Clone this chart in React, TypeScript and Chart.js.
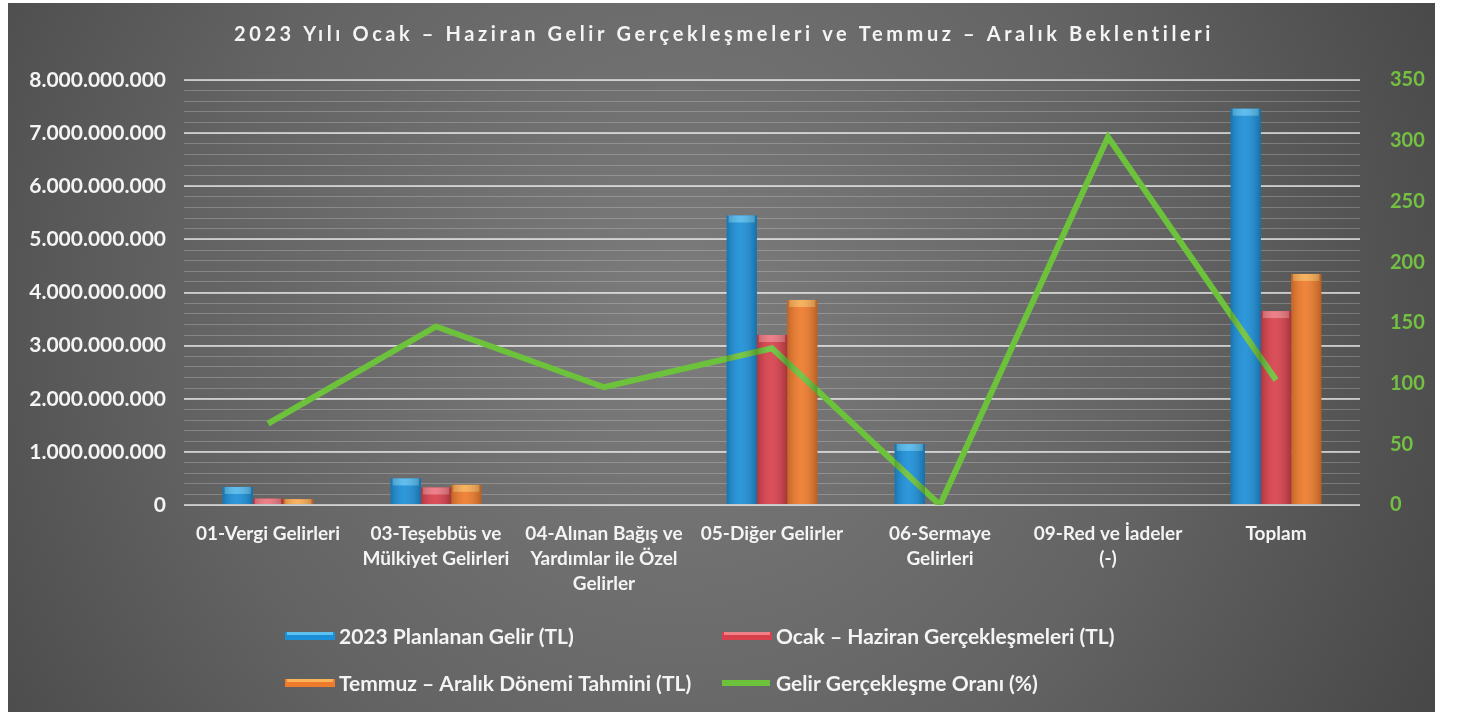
import React, { useEffect, useRef } from "react";
import { Chart, registerables } from "chart.js";

Chart.register(...registerables);

const TITLE = "2023 Yılı Ocak – Haziran Gelir Gerçekleşmeleri ve Temmuz – Aralık Beklentileri";

const categories: string[][] = [
  ["01-Vergi Gelirleri"],
  ["03-Teşebbüs ve", "Mülkiyet Gelirleri"],
  ["04-Alınan Bağış ve", "Yardımlar ile Özel", "Gelirler"],
  ["05-Diğer Gelirler"],
  ["06-Sermaye", "Gelirleri"],
  ["09-Red ve İadeler", "(-)"],
  ["Toplam"],
];

const seriesNames = [
  "2023 Planlanan Gelir (TL)",
  "Ocak – Haziran Gerçekleşmeleri (TL)",
  "Temmuz – Aralık Dönemi Tahmini (TL)",
  "Gelir Gerçekleşme Oranı (%)",
];

const planned = [340e6, 500e6, 0, 5450e6, 1150e6, 0, 7460e6];
const actual = [120e6, 330e6, 0, 3200e6, 0, 0, 3650e6];
const forecast = [110e6, 380e6, 0, 3860e6, 0, 0, 4350e6];
const rate = [67, 147, 97, 129, 0, 303, 103];

const leftTicks = [0, 1e9, 2e9, 3e9, 4e9, 5e9, 6e9, 7e9, 8e9];
const rightTicks = [0, 50, 100, 150, 200, 250, 300, 350];

const COLORS = ["#1b8fd8", "#d8404b", "#ee7a2b", "#6cc23a"];
const CAPS = ["#5cc0f0", "#f08088", "#f9b45a", "#6cc23a"];

const FONT = "Lato, 'Open Sans', sans-serif";

const fmt = (v: number) => Math.round(v).toString().replace(/\B(?=(\d{3})+(?!\d))/g, ".");

const bgPlugin = {
  id: "bgPlugin",
  beforeDraw(chart: any) {
    const { ctx, width, height } = chart;
    ctx.save();
    ctx.fillStyle = "#ffffff";
    ctx.fillRect(0, 0, width, height);
    const g = ctx.createRadialGradient(680, 320, 50, 680, 320, 850);
    g.addColorStop(0, "#7a7a7a");
    g.addColorStop(0.55, "#636363");
    g.addColorStop(1, "#474747");
    ctx.fillStyle = g;
    ctx.fillRect(8, 3, 1427, 709);
    ctx.restore();
  },
  afterDatasetsDraw(chart: any) {
    const { ctx } = chart;
    ctx.save();
    for (let d = 0; d < 3; d++) {
      const meta = chart.getDatasetMeta(d);
      meta.data.forEach((bar: any) => {
        const h = bar.base - bar.y;
        if (h < 1) return;
        const left = bar.x - bar.width / 2;
        const capH = Math.min(7, h);
        ctx.fillStyle = CAPS[d];
        ctx.globalAlpha = 0.85;
        ctx.fillRect(left + 2, bar.y, bar.width - 4, capH);
        const g = ctx.createLinearGradient(left, 0, left + bar.width, 0);
        g.addColorStop(0, "rgba(0,0,0,0.18)");
        g.addColorStop(0.45, "rgba(255,255,255,0.08)");
        g.addColorStop(1, "rgba(0,0,0,0.22)");
        ctx.globalAlpha = 1;
        ctx.fillStyle = g;
        ctx.fillRect(left, bar.y, bar.width, h);
      });
    }
    ctx.restore();
  },
  afterDraw(chart: any) {
    const { ctx } = chart;
    ctx.save();
    // Title
    ctx.fillStyle = "#f4f4f4";
    ctx.font = `bold 20px ${FONT}`;
    ctx.textAlign = "center";
    ctx.textBaseline = "middle";
    (ctx as any).letterSpacing = "3.6px";
    ctx.fillText(TITLE, 724, 35);
    (ctx as any).letterSpacing = "0px";
    // Legend
    const items = [
      { x: 285, y: 636 },
      { x: 722, y: 636 },
      { x: 285, y: 683 },
      { x: 722, y: 683 },
    ];
    ctx.textAlign = "left";
    ctx.font = `bold 21px ${FONT}`;
    chart.data.datasets.forEach((ds: any, i: number) => {
      const it = items[i];
      if (i < 3) {
        ctx.fillStyle = ds.backgroundColor;
        ctx.fillRect(it.x, it.y - 4, 50, 8);
        ctx.fillStyle = CAPS[i];
        ctx.fillRect(it.x + 2, it.y - 4, 46, 3);
      } else {
        ctx.strokeStyle = ds.borderColor;
        ctx.lineWidth = 6;
        ctx.beginPath();
        ctx.moveTo(it.x, it.y);
        ctx.lineTo(it.x + 48, it.y);
        ctx.stroke();
      }
      ctx.fillStyle = "#f4f4f4";
      ctx.fillText(ds.label, it.x + 54, it.y + 1);
    });
    ctx.restore();
  },
};

export default function App() {
  const ref = useRef<HTMLCanvasElement>(null);
  useEffect(() => {
    if (!ref.current) return;
    const barCommon = {
      type: "bar" as const,
      yAxisID: "y",
      barPercentage: 1,
      categoryPercentage: 0.54,
      order: 1,
    };
    const chart = new Chart(ref.current, {
      type: "bar",
      data: {
        labels: categories,
        datasets: [
          { ...barCommon, label: seriesNames[0], data: planned, backgroundColor: COLORS[0] },
          { ...barCommon, label: seriesNames[1], data: actual, backgroundColor: COLORS[1] },
          { ...barCommon, label: seriesNames[2], data: forecast, backgroundColor: COLORS[2] },
          {
            type: "line" as const,
            label: seriesNames[3],
            data: rate,
            yAxisID: "y1",
            borderColor: COLORS[3],
            backgroundColor: COLORS[3],
            borderWidth: 6,
            pointRadius: 0,
            tension: 0,
            order: 0,
          },
        ] as any,
      },
      options: {
        responsive: false,
        animation: false,
        layout: { padding: { top: 80, bottom: 0, left: 0, right: 0 } },
        plugins: { legend: { display: false }, title: { display: false }, tooltip: { enabled: false } },
        scales: {
          x: {
            grid: { display: false },
            border: { display: false },
            ticks: {
              color: "#f4f4f4",
              font: { family: FONT, size: 19, weight: "bold", lineHeight: 1.33 },
              padding: 8,
              maxRotation: 0,
              autoSkip: false,
            },
            afterFit(s: any) {
              s.height = 215;
            },
          },
          minor: {
            type: "linear",
            position: "left",
            min: 0,
            max: 40,
            display: true,
            grid: { color: "rgba(255,255,255,0.22)", lineWidth: 1, drawTicks: false },
            border: { display: false },
            ticks: { display: false, stepSize: 1 },
            afterFit(s: any) {
              s.width = 0;
            },
          },
          y: {
            type: "linear",
            position: "left",
            min: 0,
            max: 8e9,
            grid: { color: "rgba(255,255,255,0.6)", lineWidth: 2, drawTicks: false },
            border: { display: false },
            afterBuildTicks(s: any) {
              s.ticks = leftTicks.map((v) => ({ value: v }));
            },
            ticks: {
              color: "#f4f4f4",
              font: { family: FONT, size: 21, weight: "bold" },
              padding: 18,
              callback: (v: any) => fmt(Number(v)),
            },
            afterFit(s: any) {
              s.width = 184;
            },
          },
          y1: {
            type: "linear",
            position: "right",
            min: 0,
            max: 350,
            grid: { display: false },
            border: { display: false },
            afterBuildTicks(s: any) {
              s.ticks = rightTicks.map((v) => ({ value: v }));
            },
            ticks: {
              color: "#74c043",
              font: { family: FONT, size: 20, weight: "bold" },
              padding: 22,
            },
            afterFit(s: any) {
              s.width = 99;
            },
          },
        },
      } as any,
      plugins: [bgPlugin],
    });
    return () => chart.destroy();
  }, []);
  return (
    <div style={{ position: "fixed", left: 0, top: 0, width: 1459, height: 720, background: "#fff" }}>
      <canvas ref={ref} width={1459} height={720} style={{ display: "block" }} />
    </div>
  );
}
